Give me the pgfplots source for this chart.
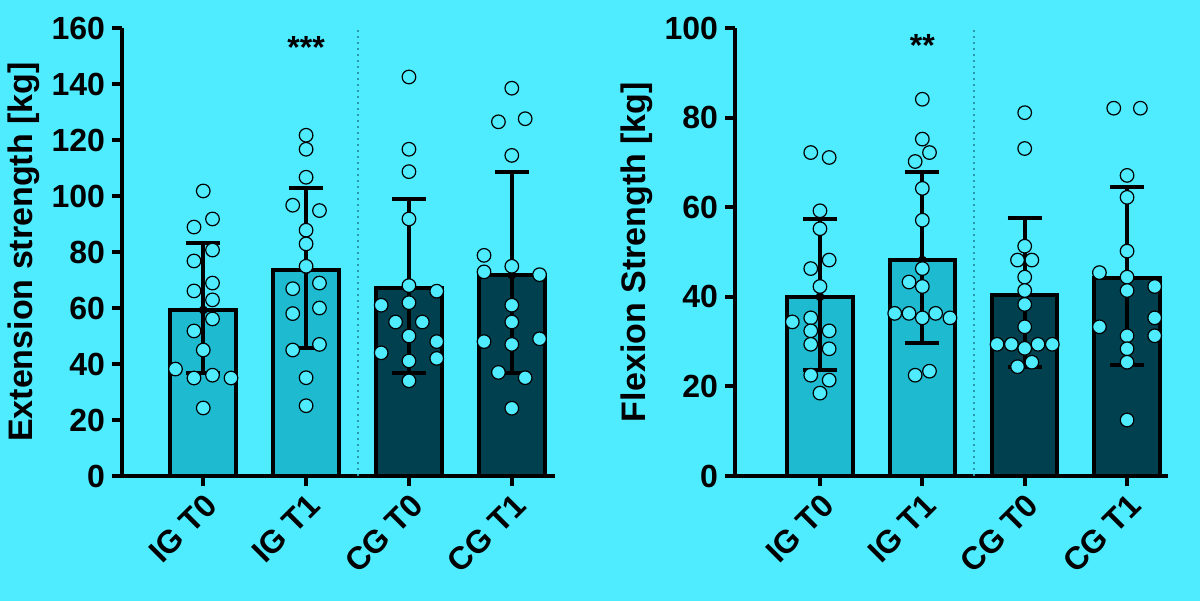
\documentclass[border=0pt]{standalone}
\usepackage{pgfplots}
\pgfplotsset{compat=1.18}
\usepackage{fontspec}
\setmainfont{Liberation Sans}
\definecolor{bgc}{HTML}{4FEBFF}
\definecolor{lbar}{HTML}{1EBAD0}
\definecolor{dbar}{HTML}{00404F}
\definecolor{sep}{HTML}{2A9AAA}
\pgfplotsset{
 mystyle/.style={
  scale only axis, width=216.5pt, height=224pt, anchor=south west,
  axis x line*=bottom, axis y line*=left, ymin=0,
  axis line style={line width=2pt},
  every tick/.style={line width=2pt,black},
  major tick length=5pt, tick align=outside,
  xtick={0,1,2,3}, xticklabels={IG T0,IG T1,CG T0,CG T1},
  /pgf/number format/assume math mode=true,
  ticklabel style={font=\bfseries\fontsize{16}{16}\selectfont},
  xticklabel style={rotate=45, anchor=north east, inner sep=2pt},
  ylabel style={font=\bfseries\fontsize{17}{17}\selectfont},
  clip=false,
 },
 barst/.style={ybar, bar width=0.64, draw=black, line width=2pt, bar shift=0pt},
 errst/.style={only marks, mark=none, draw=black, error bars/.cd, y dir=both, y explicit,
   error bar style={line width=2pt,black}, error mark options={rotate=90, mark size=8.5pt, line width=2pt, black}},
 ptst/.style={only marks, mark=*, mark size=3.4pt, mark options={fill=bgc, draw=black, line width=0.6pt}},
}
\begin{document}
\begin{tikzpicture}
\fill[bgc] (0,0) rectangle (600pt,300.5pt);
\begin{axis}[mystyle, at={(61pt,62.5pt)}, xmin=-0.79, xmax=3.42, ymax=160, ytick={0,20,...,160},
  ylabel={Extension strength [kg]}, ylabel style={yshift=-1pt}]
\draw[sep, dotted, line width=1pt] (axis cs:1.5,0) -- (axis cs:1.5,160);
\addplot[barst, fill=lbar] coordinates {(0,59.3) (1,73.6)};
\addplot[barst, fill=dbar] coordinates {(2,67) (3,71.8)};
\addplot[errst] coordinates {
 (0,59.3) += (0,24) -= (0,22.5)
 (1,73.6) += (0,29.4) -= (0,28)
 (2,67) += (0,31.8) -= (0,30.1)
 (3,71.8) += (0,36.6) -= (0,35.1)};
\addplot[ptst] coordinates {
 (0,101.8)(0.09,91.8)(-0.09,88.9)(0.09,80.7)(-0.09,76.8)(0.09,68.9)(-0.09,66.1)(0.09,62.9)(0.09,56.1)(-0.09,51.8)(0,45)(-0.27,38.2)(-0.09,35)(0.09,36)(0.27,35)(0,24.3)
 (1,121.7)(1,116.7)(1,106.7)(0.87,96.7)(1.13,94.8)(1,87.8)(1,82.9)(1,74.9)(0.87,66.9)(1.13,68.9)(0.87,58)(1.13,60)(0.87,45)(1.13,47)(1,35.1)(1,25.1)
 (2,142.5)(2,116.7)(2,108.7)(2,91.8)(2,68)(2.27,66)(1.73,61)(2,61.9)(1.87,55)(2.13,55)(2,50)(2.27,48)(1.73,44)(2.27,42)(2,41.1)(2,34)
 (3,138.5)(2.87,126.5)(3.13,127.6)(3,114.5)(2.73,78.8)(2.73,72.9)(3,74.9)(3.27,71.9)(3,61)(3,55)(2.73,48)(3.27,49)(3,47)(2.87,37)(3.13,35.1)(3,24.2)};
\node[font=\bfseries\fontsize{16}{16}\selectfont] at (axis cs:1,153) {***};
\end{axis}
\begin{axis}[mystyle, at={(367.5pt,62.5pt)}, xmin=-0.83, xmax=3.4, ymax=100, ytick={0,20,...,100},
  ylabel={Flexion Strength [kg]}, ylabel style={yshift=-1pt}]
\draw[sep, dotted, line width=1pt] (axis cs:1.5,0) -- (axis cs:1.5,100);
\addplot[barst, fill=lbar] coordinates {(0,40) (1,48.2)};
\addplot[barst, fill=dbar] coordinates {(2,40.4) (3,44.1)};
\addplot[errst] coordinates {
 (0,40) += (0,17.4) -= (0,16.3)
 (1,48.2) += (0,19.6) -= (0,18.6)
 (2,40.4) += (0,17.1) -= (0,16.1)
 (3,44.1) += (0,20.3) -= (0,19.3)};
\addplot[ptst] coordinates {
 (-0.09,72.2)(0.09,71.1)(0,59.2)(0,55.2)(0.09,48.2)(-0.09,46.3)(0,42.3)(-0.27,34.4)(-0.09,35.3)(-0.09,32.4)(0.09,32.4)(-0.09,29.4)(0.09,28.4)(-0.09,22.5)(0.09,21.4)(0,18.5)
 (1,84.1)(1,75.2)(1.07,72.2)(0.93,70.2)(1,64.2)(1,57.1)(1,46.3)(0.87,43.3)(1,42.3)(0.73,36.3)(0.87,36.3)(1.13,36.3)(1.27,35.3)(1,35.3)(0.93,22.5)(1.07,23.4)
 (2,81.1)(2,73.1)(2,51.3)(1.93,48.2)(2.07,48.2)(2,44.4)(2,41.4)(2,38.3)(2,33.3)(1.73,29.4)(1.87,29.4)(2,28.5)(2.13,29.4)(2.27,29.4)(1.93,24.4)(2.07,25.4)
 (2.87,82.1)(3.13,82.1)(3,67.1)(3,62.2)(3,50.2)(2.73,45.4)(3,44.4)(3.27,42.3)(3,41.4)(2.73,33.3)(3.27,35.3)(3.27,31.3)(3,31.3)(3,28.4)(3,25.4)(3,12.5)};
\node[font=\bfseries\fontsize{16}{16}\selectfont] at (axis cs:1,96) {**};
\end{axis}
\end{tikzpicture}
\end{document}
